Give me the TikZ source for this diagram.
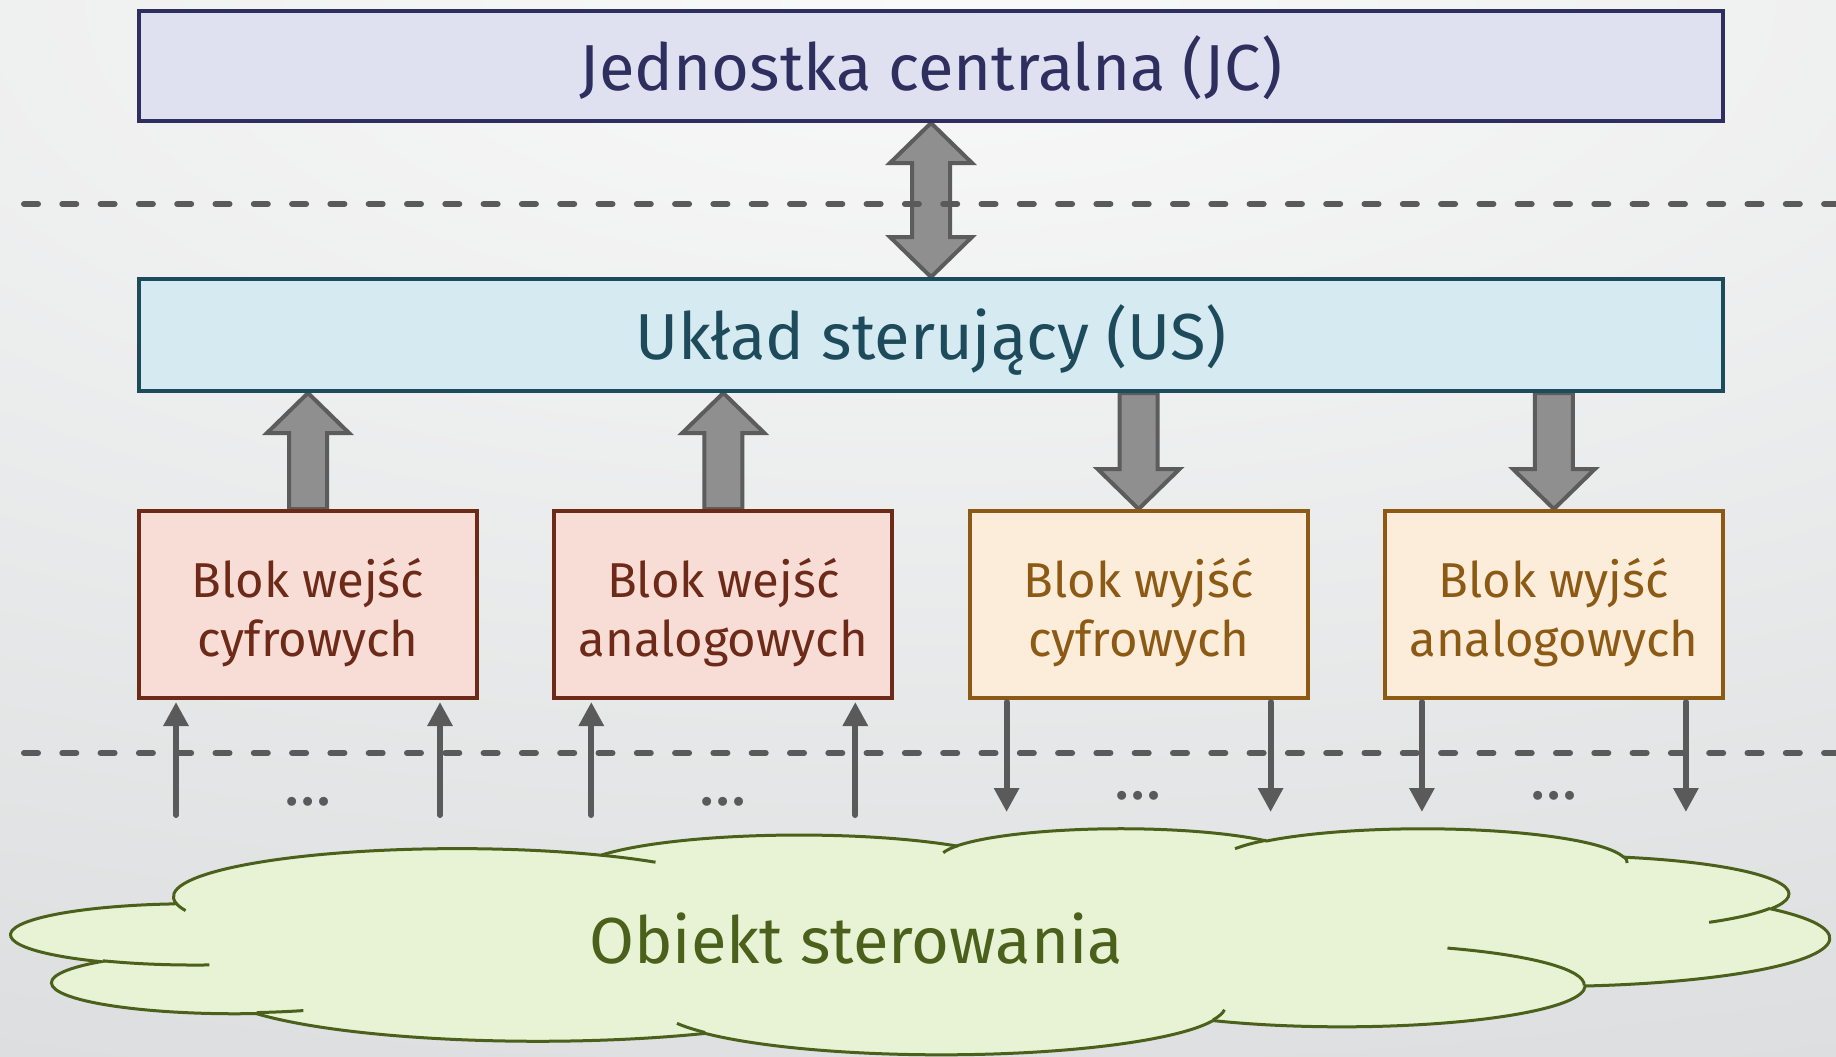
\documentclass[tikz,border=0pt]{standalone}
\usepackage{fontspec}
\setmainfont{Fira Sans}
\usetikzlibrary{arrows.meta,calc,positioning}

\definecolor{bgin}{HTML}{F9F9F9}
\definecolor{bgout}{HTML}{BDC1C3}
\definecolor{jcfill}{HTML}{DFE1F1}
\definecolor{jcline}{HTML}{2E2E5F}
\definecolor{usfill}{HTML}{D5EBF1}
\definecolor{usline}{HTML}{1E4B5B}
\definecolor{infill}{HTML}{F7DDD6}
\definecolor{inline}{HTML}{6E2A18}
\definecolor{outfill}{HTML}{FCEDDA}
\definecolor{outline}{HTML}{8C5A14}
\definecolor{objfill}{HTML}{E8F2D4}
\definecolor{objline}{HTML}{4B601A}
\definecolor{fatfill}{HTML}{8F8F8F}
\definecolor{fatline}{HTML}{5C5C5C}
\definecolor{wire}{HTML}{5A5A5A}

\pgfdeclarelayer{bg}
\pgfdeclarelayer{back}
\pgfsetlayers{bg,back,main}

\tikzset{
  mainbox/.style={draw, line width=4pt, minimum width=1584pt,
    font=\fontsize{65}{70}\selectfont, text height=61pt, text depth=13pt},
  blockbox/.style={draw, line width=4pt, minimum width=338pt, minimum height=187pt,
    align=center, font=\fontsize{49}{59}\selectfont,
    execute at begin node=\rule{0pt}{116pt},
    execute at end node=\rule[-12pt]{0pt}{12pt}},
  inbox/.style={blockbox, fill=infill, draw=inline, text=inline},
  outbox/.style={blockbox, fill=outfill, draw=outline, text=outline},
  fat/.style={draw=fatline, fill=fatfill, line width=4pt},
  sig/.style={wire, line width=6pt, line cap=round, -{Triangle[length=24pt,width=24pt]}},
  sep/.style={wire, line width=6pt, line cap=round, dash pattern=on 14pt off 24.3pt},
  dots/.style={text=wire, font=\fontsize{64}{66}\selectfont},
  cloud/.style={draw=objline, fill=objfill, line width=3pt},
}

% fat block arrow: #1 start, #2 tip
\newcommand\fatarrow[2]{%
  \draw[fat] ($(#1)+(-19,0)$) -- ($(#2)!40pt!(#1)+(-19,0)$)
    -- ($(#2)!40pt!(#1)+(-41,0)$) -- (#2)
    -- ($(#2)!40pt!(#1)+(41,0)$) -- ($(#2)!40pt!(#1)+(19,0)$)
    -- ($(#1)+(19,0)$) -- cycle;}
% fat double arrow between #1 and #2
\newcommand\fatdarrow[2]{%
  \draw[fat] (#1) -- ($(#1)!40pt!(#2)+(41,0)$) -- ($(#1)!40pt!(#2)+(19,0)$)
    -- ($(#2)!40pt!(#1)+(19,0)$) -- ($(#2)!40pt!(#1)+(41,0)$) -- (#2)
    -- ($(#2)!40pt!(#1)+(-41,0)$) -- ($(#2)!40pt!(#1)+(-19,0)$)
    -- ($(#1)!40pt!(#2)+(-19,0)$) -- ($(#1)!40pt!(#2)+(-41,0)$) -- cycle;}
% elliptic arc: x radius, y radius, start and sweep angle on the ellipse
\newcommand\cloudarc[4]{arc[x radius=#1, y radius=#2,
  start angle={atan2(#1*sin(#3),#2*cos(#3))},
  delta angle={#4+Mod(atan2(#1*sin(#3+#4),#2*cos(#3+#4))-atan2(#1*sin(#3),#2*cos(#3))-(#4)+180,360)-180}]}

\begin{document}
\begin{tikzpicture}[x=1pt, y=-1pt]
  \useasboundingbox (0,0) rectangle (1836,1057);
  \begin{pgfonlayer}{bg}
    \clip (0,0) rectangle (1836,1057);
    \shade[inner color=bgin, outer color=bgout] (-4638,-2348) rectangle (6498,2348);
  \end{pgfonlayer}

  % boxes
  \node[mainbox, fill=jcfill, draw=jcline, text=jcline, minimum height=110pt]
    (jc) at (931,66) {Jednostka centralna (JC)};
  \node[mainbox, fill=usfill, draw=usline, text=usline, minimum height=112pt,
    below=154pt of jc] (us) {Układ sterujący (US)};
  \node[inbox, below=116pt of us.south west, anchor=north west] (b1) {Blok wejść\\cyfrowych};
  \node[inbox, right=73.3pt of b1] (b2) {Blok wejść\\analogowych};
  \node[outbox, right=73.3pt of b2] (b3) {Blok wyjść\\cyfrowych};
  \node[outbox, right=73.3pt of b3] (b4) {Blok wyjść\\analogowych};

  % fat arrows
  \begin{pgfonlayer}{back}
    \fatdarrow{jc.south}{us.north}
    \fatarrow{b1.north}{b1.north |- us.south}
    \fatarrow{b2.north}{b2.north |- us.south}
    \fatarrow{b3.north |- us.south}{b3.north}
    \fatarrow{b4.north |- us.south}{b4.north}
  \end{pgfonlayer}

  % signal lines
  \foreach \b/\d in {b1/113,b2/113,b3/110,b4/110} {
    \coordinate (\b-l) at ($(\b.south west)+(39,2)$);
    \coordinate (\b-r) at ($(\b.south east)+(-39,2)$);
    \coordinate (\b-lx) at ($(\b-l)+(0,\d)$);
    \coordinate (\b-rx) at ($(\b-r)+(0,\d)$);
  }
  \foreach \b in {b1,b2} {
    \draw[sig] (\b-lx) -- (\b-l);
    \draw[sig] (\b-rx) -- (\b-r);
    \node[dots] (\b-dots) at ($(\b.south)+(0,102)$) {…};
  }
  \foreach \b in {b3,b4} {
    \draw[sig] (\b-l) -- (\b-lx);
    \draw[sig] (\b-r) -- (\b-rx);
    \node[dots] (\b-dots) at ($(\b.south)+(0,96)$) {…};
  }

  % cloud
  \begin{scope}[shift={(12,828)}, x=4.206pt, y=-0.5231pt]
    \draw[cloud] (39.00,143.70) \cloudarc{67.53}{91.90}{-190.4875}{123.7805}
      \cloudarc{53.33}{72.67}{-144.1024}{89.9452}
      \cloudarc{43.65}{59.45}{-145.8079}{99.7230}
      \cloudarc{48.57}{65.95}{-130.9861}{117.2417}
      \cloudarc{53.33}{72.73}{-78.7089}{109.0269}
      \cloudarc{67.75}{92.20}{-46.2673}{130.2690}
      \cloudarc{57.85}{78.67}{0.6250}{114.0333}
      \cloudarc{67.52}{92.15}{22.4516}{115.1726}
      \cloudarc{77.20}{105.43}{66.2426}{75.7110}
      \cloudarc{43.60}{59.18}{-274.9421}{146.7356}
      \cloudarc{43.45}{59.45}{-246.8285}{152.5189} -- cycle;
    \draw[cloud, fill=none]
      (46.93,261.77) \cloudarc{43.45}{59.45}{86.7420}{26.4295}
      (69.28,348.99) \cloudarc{43.60}{59.18}{73.6105}{11.4475}
      (164.78,390.90) \cloudarc{67.52}{92.15}{137.6242}{14.0811}
      (288.27,347.51) \cloudarc{67.52}{92.15}{6.4533}{15.9984}
      (341.29,229.54) \cloudarc{57.85}{78.67}{-70.2924}{70.9174}
      (417.98,153.54) \cloudarc{53.33}{72.73}{30.3180}{27.7515}
      (383.24,54.26) \cloudarc{48.57}{65.95}{-13.7443}{14.8589}
      (290.78,39.52) \cloudarc{48.57}{65.95}{-149.1815}{18.1954}
      (221.41,47.20) \cloudarc{43.65}{59.45}{-163.4943}{17.6864}
      (140.00,51.92) \cloudarc{67.53}{91.90}{-66.7070}{12.3194}
      (41.27,157.89) \cloudarc{67.53}{91.90}{157.6544}{11.8582};
  \end{scope}
  \node[anchor=base, text=objline, font=\fontsize{65}{70}\selectfont] (obj) at (856,963)
    {Obiekt sterowania};

  % separators
  \draw[sep] (24,204) -- (1860,204);
  \draw[sep] (24,753) -- (1860,753);
\end{tikzpicture}
\end{document}
